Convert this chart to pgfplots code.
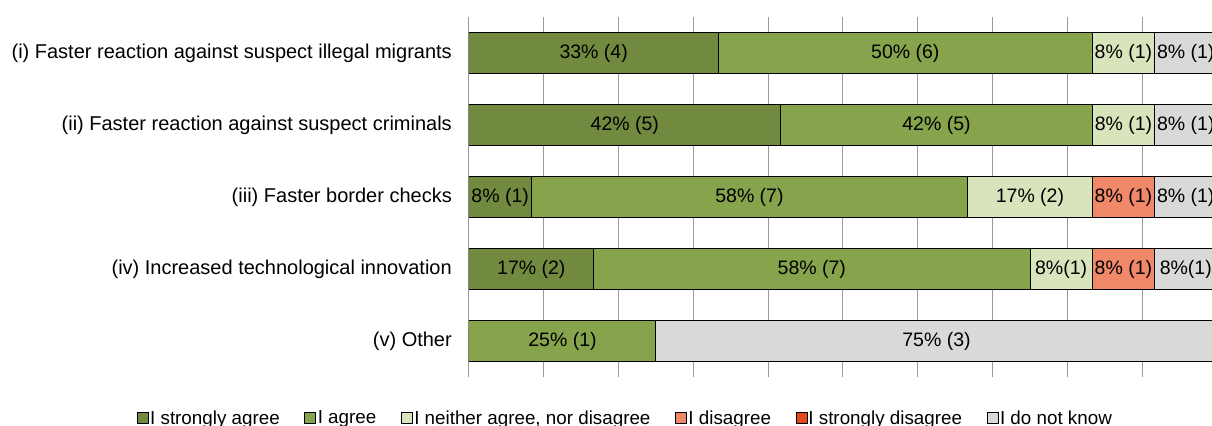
\documentclass[border=0pt]{standalone}
\usepackage{fontspec}
\setmainfont{Liberation Sans}
\usepackage{pgfplots}
\pgfplotsset{compat=1.18}
\definecolor{cSA}{HTML}{718A3F}
\definecolor{cA}{HTML}{87A34B}
\definecolor{cN}{HTML}{D8E4BC}
\definecolor{cD}{HTML}{F0886A}
\definecolor{cSD}{HTML}{E2491B}
\definecolor{cDK}{HTML}{D9D9D9}
\definecolor{gridc}{HTML}{9A9A9A}
\begin{document}
\begin{tikzpicture}
\begin{axis}[
  at={(0,0)}, anchor=south west,
  scale only axis,
  width=748bp, height=360bp,
  xbar stacked,
  bar width=41bp,
  xmin=0, xmax=100,
  ymin=-0.5, ymax=4.5,
  y dir=reverse,
  ytick={0,1,2,3,4},
  yticklabels={{(i) Faster reaction against suspect illegal migrants},{(ii) Faster reaction against suspect criminals},{(iii) Faster border checks},{(iv) Increased technological innovation},{(v) Other}},
  xtick={0,10,...,100},
  xticklabels={},
  xmajorgrids,
  major grid style={gridc, line width=1bp},
  axis y line*=left,
  axis x line*=bottom,
  x axis line style={draw=none},
  y axis line style={gridc, line width=1bp, -},
  major tick length=0pt,
  tick style={draw=none},
  yticklabel style={anchor=east, inner sep=0pt, xshift=-17bp, font=\fontsize{20bp}{23bp}\selectfont},
  point meta=explicit symbolic,
  nodes near coords,
  nodes near coords align={anchor=center},
  every node near coord/.append style={anchor=center, inner sep=0pt, text=black, font=\fontsize{19.5bp}{22bp}\selectfont},
  legend columns=6,
  legend cell align=left,
  legend style={at={(0.2086,-0.114)}, anchor=center, draw=none, fill=none,
    font=\fontsize{18.8bp}{21bp}\selectfont,
    /tikz/every even column/.append style={column sep=23bp},
    nodes={inner sep=1.5bp}},
  legend image code/.code={\draw[#1] (0bp,-5.5bp) rectangle (11bp,5.5bp);},
]
\addplot[fill=cSA, draw=black, line width=1bp] coordinates {
  (33.33,0) [33\% (4)]
  (41.67,1) [42\% (5)]
  (8.33,2) [8\% (1)]
  (16.67,3) [17\% (2)]
  (0,4) [{}]
};
\addplot[fill=cA, draw=black, line width=1bp] coordinates {
  (50,0) [50\% (6)]
  (41.67,1) [42\% (5)]
  (58.33,2) [58\% (7)]
  (58.33,3) [58\% (7)]
  (25,4) [25\% (1)]
};
\addplot[fill=cN, draw=black, line width=1bp] coordinates {
  (8.33,0) [8\% (1)]
  (8.33,1) [8\% (1)]
  (16.67,2) [17\% (2)]
  (8.33,3) [8\%(1)]
  (0,4) [{}]
};
\addplot[fill=cD, draw=black, line width=1bp] coordinates {
  (0,0) [{}]
  (0,1) [{}]
  (8.33,2) [8\% (1)]
  (8.33,3) [8\% (1)]
  (0,4) [{}]
};
\addplot[fill=cSD, draw=none] coordinates {
  (0,0) [{}]
  (0,1) [{}]
  (0,2) [{}]
  (0,3) [{}]
  (0,4) [{}]
};
\addplot[fill=cDK, draw=black, line width=1bp] coordinates {
  (8.33,0) [8\% (1)]
  (8.33,1) [8\% (1)]
  (8.33,2) [8\% (1)]
  (8.33,3) [8\%(1)]
  (75,4) [75\% (3)]
};
\legend{I strongly agree, I agree, {I neither agree, nor disagree}, I disagree, I strongly disagree, I do not know}
\end{axis}
\pgfresetboundingbox
\path[use as bounding box] (-469bp,-49bp) rectangle (743bp,377bp);
\end{tikzpicture}
\end{document}
